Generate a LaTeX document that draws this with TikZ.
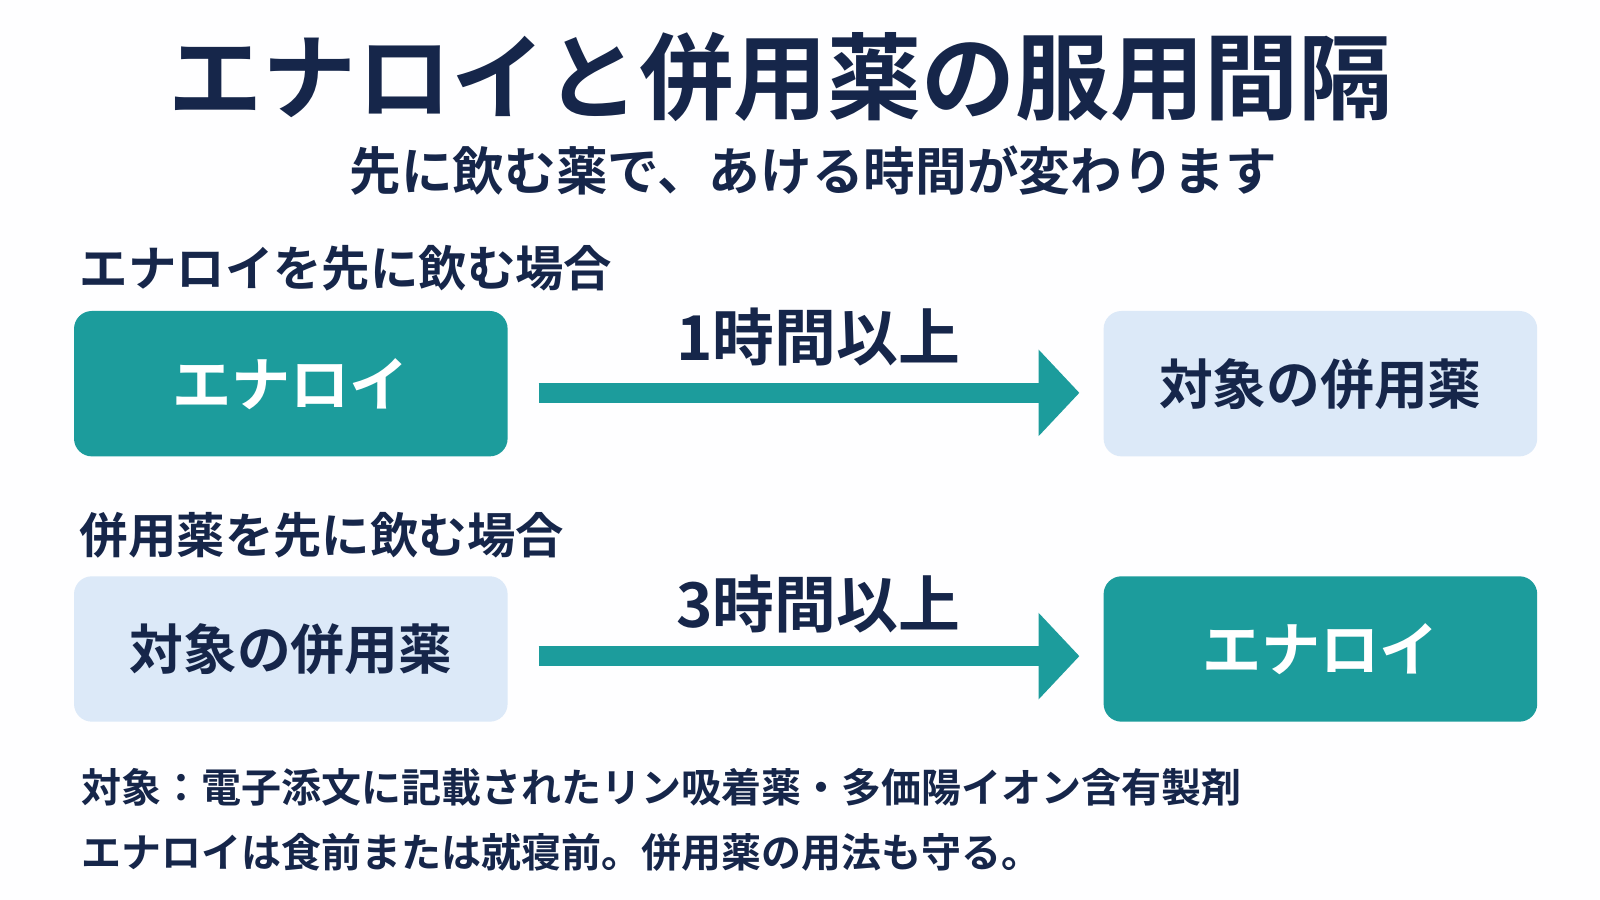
\documentclass[tikz,border=0pt]{standalone}
\usepackage{fontspec}
\newfontfamily\jp{Noto Sans CJK JP}[BoldFont={* Bold}]
\usetikzlibrary{arrows.meta}
\definecolor{navy}{HTML}{16264A}
\definecolor{teal}{HTML}{1C9C9C}
\definecolor{light}{HTML}{DCE9F8}
\begin{document}
\begin{tikzpicture}[x=0.02cm,y=-0.02cm,
  txt/.style={text=navy,font=\jp\bfseries},
  box/.style={rounded corners=0.35cm,minimum width=8.5cm,minimum height=2.85cm},
  dark/.style={box,fill=teal,text=white,font=\jp\bfseries\fontsize{33}{36}\selectfont},
  pale/.style={box,fill=light,text=navy,font=\jp\bfseries\fontsize{30}{36}\selectfont},
  arr/.style={draw=teal,line width=0.4cm,-{Triangle[length=0.8cm,width=1.65cm]}}]
\fill[white!96!light] (0,0) rectangle (1568,882);
\node[txt,font=\jp\bfseries\fontsize{52.5}{60}\selectfont] (title) at (765,75) {エナロイと併用薬の服用間隔};
\node[txt,font=\jp\bfseries\fontsize{28.8}{32}\selectfont] (sub) at (797,167) {先に飲む薬で、あける時間が変わります};
\node[txt,anchor=west,font=\jp\bfseries\fontsize{27}{32}\selectfont] (s1) at (72,263) {エナロイを先に飲む場合};
\node[txt,anchor=west,font=\jp\bfseries\fontsize{27}{32}\selectfont] (s2) at (72,525) {併用薬を先に飲む場合};
\node[dark] (a1) at (285,376) {エナロイ};
\node[pale] (b1) at (1294,376) {対象の併用薬};
\node[pale] (a2) at (285,636) {対象の併用薬};
\node[dark] (b2) at (1294,636) {エナロイ};
\draw[arr] (a1.east)+(30,9) coordinate (p1) -- ++(560,9) coordinate (q1);
\draw[arr] (a2.east)+(30,7) coordinate (p2) -- ++(560,7) coordinate (q2);
\node[txt,font=\jp\bfseries\fontsize{34.5}{40}\selectfont] (l1) at (802,330) {1時間以上};
\node[txt,font=\jp\bfseries\fontsize{34.5}{40}\selectfont] (l2) at (802,592) {3時間以上};
\node[txt,anchor=west,font=\jp\bfseries\fontsize{22.3}{28}\selectfont] (f1) at (74,772) {対象：電子添文に記載されたリン吸着薬・多価陽イオン含有製剤};
\node[txt,anchor=west,font=\jp\bfseries\fontsize{22.3}{28}\selectfont] (f2) at (74,835) {エナロイは食前または就寝前。併用薬の用法も守る。};
\end{tikzpicture}
\end{document}
